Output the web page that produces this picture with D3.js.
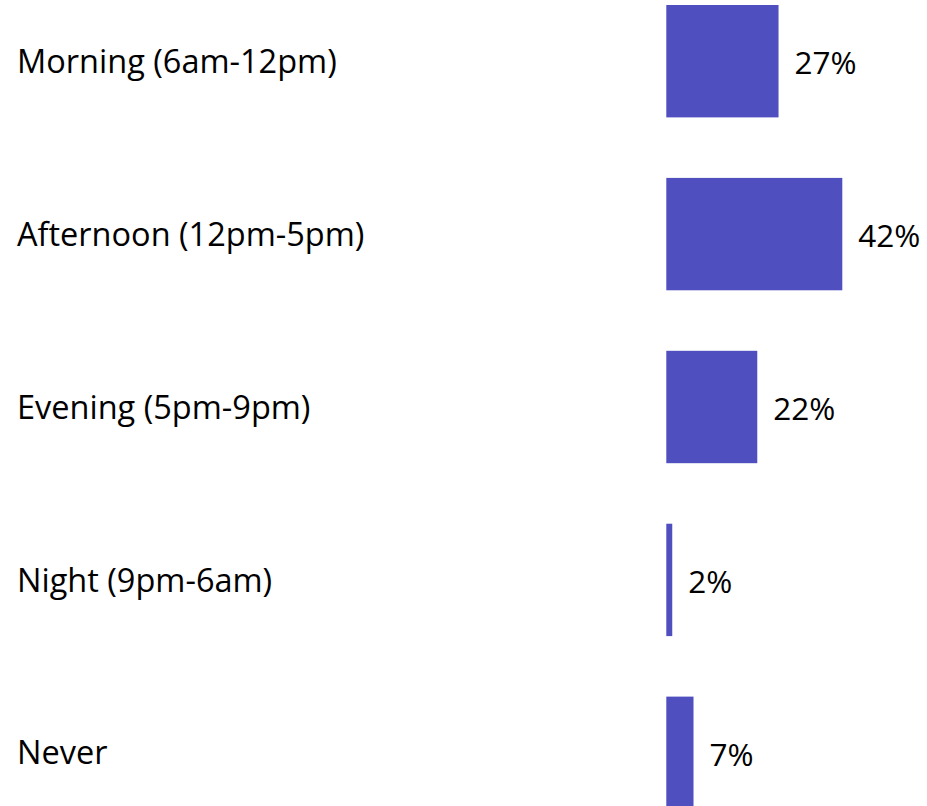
<!DOCTYPE html>
<html>
<head>
<meta charset="utf-8">
<script src="https://cdn.jsdelivr.net/npm/d3@7"></script>
<style>
  html, body { margin: 0; padding: 0; background: #fff; }
  svg { display: block; }
</style>
</head>
<body>
<div id="chart"></div>
<script>
(function () {

  // data
  const categories = ["Morning (6am-12pm)", "Afternoon (12pm-5pm)", "Evening (5pm-9pm)", "Night (9pm-6am)", "Never"];
  const values = [27, 42, 22, 2, 7];
  const valueLabels = ["27%", "42%", "22%", "2%", "7%"];

  // ---------------------------------------------------------
  // SETUP
  // ---------------------------------------------------------
  const width = 927;
  const height = 806;
  const barColor = "#4f4fbf";
  const fontFamily = "'Open Sans', 'Noto Sans', sans-serif";

  const svg = d3.select("#chart").append("svg")
      .attr("width", width)
      .attr("height", height);

  // bars start at 666px, the axis origin sits a bit below zero
  const x = d3.scaleLinear()
      .domain([0.6, 42])
      .range([666.3, 842.3]);

  const y = d3.scaleBand()
      .domain(categories)
      .range([5, 809])
      .paddingInner(0.35)
      .paddingOuter(0);

  const rows = svg.append("g").selectAll("g.row")
    .data(categories.map((c, i) => ({ cat: c, value: values[i], label: valueLabels[i] })))
    .enter().append("g")
      .attr("class", "row");

  // category labels
  rows.append("text")
      .attr("x", 17)
      .attr("y", d => y(d.cat) + y.bandwidth() / 2)
      .attr("dy", "0.357em")
      .style("font-family", fontFamily)
      .style("font-size", "32.5px")
      .style("fill", "#000")
      .text(d => d.cat);

  // bars
  rows.append("rect")
      .attr("x", x(0.6))
      .attr("y", d => y(d.cat))
      .attr("width", d => x(d.value) - x(0.6))
      .attr("height", y.bandwidth())
      .attr("fill", barColor);

  // value labels
  rows.append("text")
      .attr("x", d => x(d.value) + 16)
      .attr("y", d => y(d.cat) + y.bandwidth() / 2 + 1.5)
      .attr("dy", "0.357em")
      .style("font-family", fontFamily)
      .style("font-size", "31.5px")
      .style("fill", "#000")
      .text(d => d.label);

})();
</script>
</body>
</html>
